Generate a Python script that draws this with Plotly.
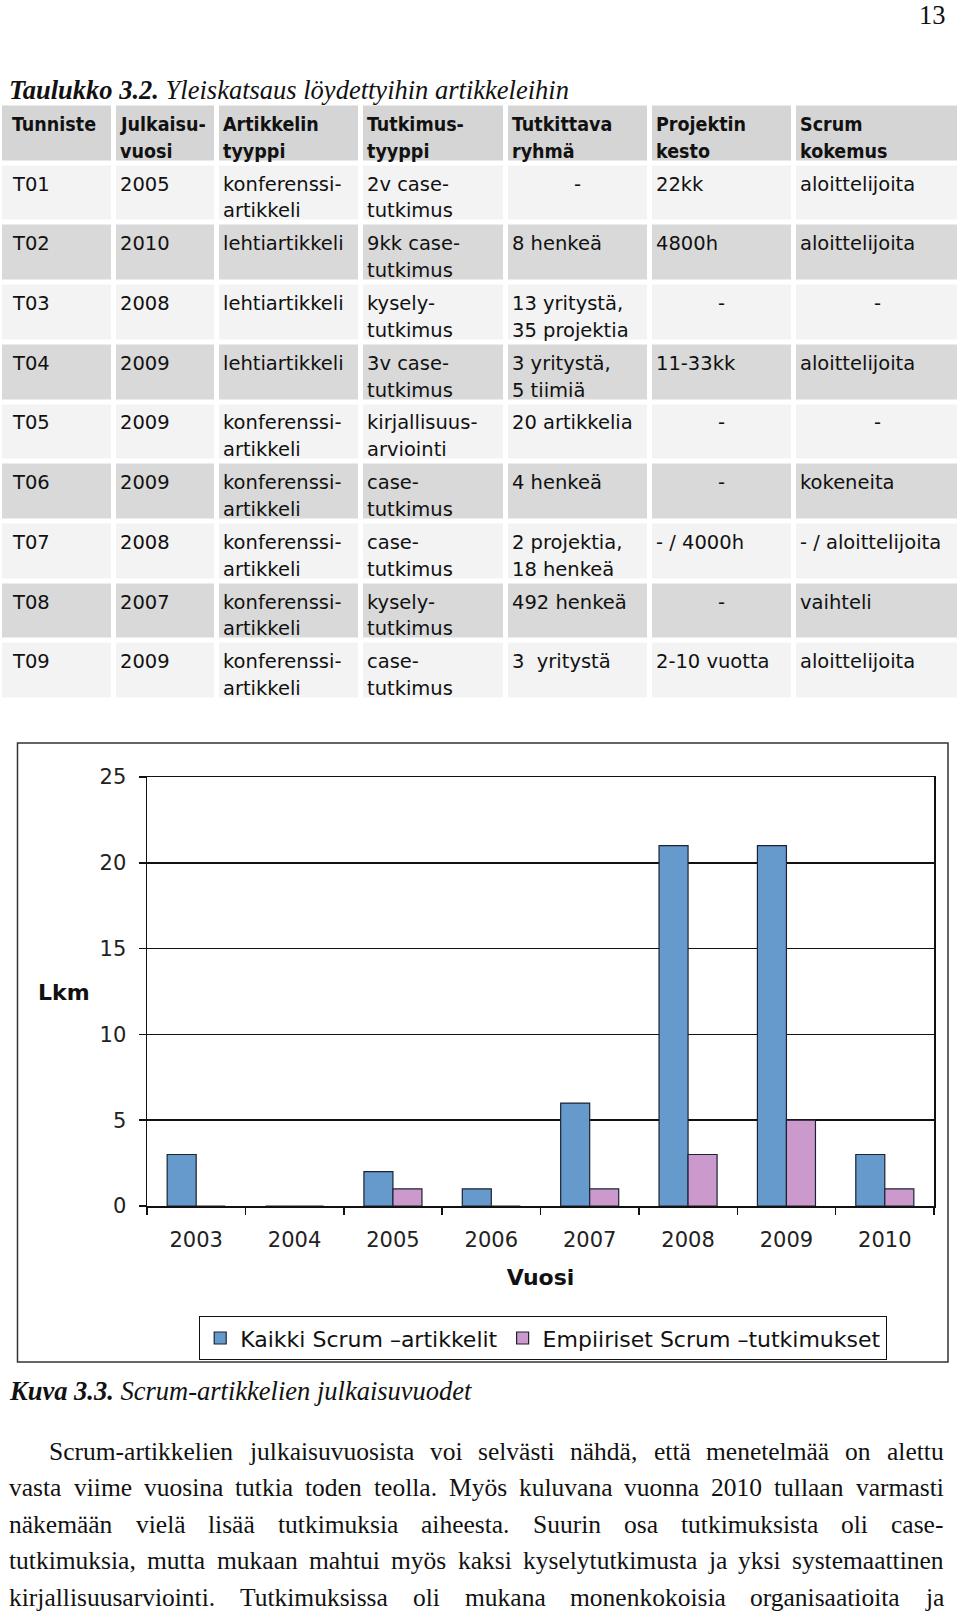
import plotly.graph_objects as go

W, H = 960, 1611

# ---- data -------------------------------------------------------------
years = ["2003", "2004", "2005", "2006", "2007", "2008", "2009", "2010"]
all_articles = [3, 0, 2, 1, 6, 21, 21, 3]
empirical = [0, 0, 1, 0, 1, 3, 5, 1]

header = ["Tunniste", "Julkaisu-\nvuosi", "Artikkelin\ntyyppi", "Tutkimus-\ntyyppi",
          "Tutkittava\nryhmä", "Projektin\nkesto", "Scrum\nkokemus"]
tunniste = ["T01", "T02", "T03", "T04", "T05", "T06", "T07", "T08", "T09"]
julkaisuvuosi = ["2005", "2010", "2008", "2009", "2009", "2009", "2008", "2007", "2009"]
artikkelin_tyyppi = ["konferenssi-\nartikkeli", "lehtiartikkeli", "lehtiartikkeli", "lehtiartikkeli",
                     "konferenssi-\nartikkeli", "konferenssi-\nartikkeli", "konferenssi-\nartikkeli",
                     "konferenssi-\nartikkeli", "konferenssi-\nartikkeli"]
tutkimustyyppi = ["2v case-\ntutkimus", "9kk case-\ntutkimus", "kysely-\ntutkimus", "3v case-\ntutkimus",
                  "kirjallisuus-\narviointi", "case-\ntutkimus", "case-\ntutkimus", "kysely-\ntutkimus",
                  "case-\ntutkimus"]
tutkittava_ryhma = ["-", "8 henkeä", "13 yritystä,\n35 projektia", "3 yritystä,\n5 tiimiä", "20 artikkelia",
                    "4 henkeä", "2 projektia,\n18 henkeä", "492 henkeä", "3\u00a0 yritystä"]
projektin_kesto = ["22kk", "4800h", "-", "11-33kk", "-", "-", "- / 4000h", "-", "2-10 vuotta"]
scrum_kokemus = ["aloittelijoita", "aloittelijoita", "-", "aloittelijoita", "-", "kokeneita",
                 "- / aloittelijoita", "vaihteli", "aloittelijoita"]

paragraph = [
    "Scrum-artikkelien julkaisuvuosista voi selvästi nähdä, että menetelmää on alettu",
    "vasta viime vuosina tutkia toden teolla. Myös kuluvana vuonna 2010 tullaan varmasti",
    "näkemään vielä lisää tutkimuksia aiheesta. Suurin osa tutkimuksista oli case-",
    "tutkimuksia, mutta mukaan mahtui myös kaksi kyselytutkimusta ja yksi systemaattinen",
    "kirjallisuusarviointi. Tutkimuksissa oli mukana monenkokoisia organisaatioita ja",
]

# ---- layout helpers ----------------------------------------------------
SANS = "DejaVu Sans"
SANS_C = "DejaVu Sans Condensed, DejaVu Sans"
SERIF = "Liberation Serif, Times New Roman, serif"


def px(x):
    return x / W


def py(y):
    return 1 - y / H


fig = go.Figure()
ann = []

# ---- table (heatmap bricks on a hidden axis pair) ----------------------
col_widths = [114, 103, 143.5, 145, 144, 144.5, 166]
edges = [-2.5]
for w in col_widths:
    edges.append(edges[-1] + w)
text_pad = [11.5, 6, 6, 6, 6, 6, 6]

columns = [tunniste, julkaisuvuosi, artikkelin_tyyppi, tutkimustyyppi,
           tutkittava_ryhma, projektin_kesto, scrum_kokemus]
rows = [header] + [[col[i] for col in columns] for i in range(len(tunniste))]
z = [[2] * 7] + [[i % 2] * 7 for i in range(len(tunniste))]

fig.add_trace(go.Heatmap(
    x=edges, y=list(range(len(rows) + 1)), z=z,
    xaxis="x2", yaxis="y2", zmin=0, zmax=2, showscale=False, hoverinfo="skip",
    colorscale=[[0, "#f3f3f3"], [0.34, "#f3f3f3"], [0.34, "#d9d9d9"], [0.67, "#d9d9d9"],
                [0.67, "#d5d5d5"], [1, "#d5d5d5"]],
    xgap=5, ygap=5,
))

line_off = [0.35, 0.80]
for r, row in enumerate(rows):
    for c, cell in enumerate(row):
        for k, line in enumerate(cell.split("\n")):
            centered = cell == "-"
            ann.append(dict(
                xref="x2", yref="y2",
                x=(edges[c] + edges[c + 1]) / 2 if centered else edges[c] + text_pad[c],
                y=r + line_off[k], text=line, showarrow=False,
                xanchor="center" if centered else "left", yanchor="middle",
                borderpad=0, borderwidth=0,
                font=dict(family=SANS_C if r == 0 else SANS, size=19.5, color="#111",
                          weight="bold" if r == 0 else "normal"),
            ))

# ---- bar chart ---------------------------------------------------------
bar_line = dict(color="#1c2333", width=1.2)
fig.add_trace(go.Bar(x=years, y=all_articles, name="Kaikki Scrum –artikkelit",
                     marker=dict(color="#6699cc", line=bar_line)))
fig.add_trace(go.Bar(x=years, y=empirical, name="Empiiriset Scrum –tutkimukset",
                     marker=dict(color="#cc99cc", line=bar_line)))

axis_font = dict(family=SANS, size=21, color="#222")
fig.update_layout(
    width=W, height=H, margin=dict(l=0, r=0, t=0, b=0, autoexpand=False),
    paper_bgcolor="white", plot_bgcolor="white",
    barmode="group", bargap=0.41, bargroupgap=0,
    xaxis=dict(domain=[px(147), px(934)], type="category", anchor="y", automargin=False,
               showline=True, mirror=True, linecolor="#111", linewidth=1.5,
               ticks="outside", tickson="boundaries", ticklen=7, tickwidth=1.5, tickcolor="#111",
               tickfont=axis_font, ticklabelstandoff=14, showgrid=False,
               title=dict(text="Vuosi", font=dict(family=SANS, size=22, color="#111", weight="bold"),
                          standoff=19)),
    yaxis=dict(domain=[py(1206), py(777)], range=[0, 25], dtick=5, anchor="x", automargin=False,
               showline=True, mirror=True, linecolor="#111", linewidth=1.5,
               showgrid=True, gridcolor="#111", gridwidth=1.5, zeroline=False,
               ticks="outside", ticklen=7, tickwidth=1.5, tickcolor="#111",
               tickfont=axis_font, ticklabelstandoff=8),
    xaxis2=dict(domain=[0, 1], range=[-2.5, 957.5], visible=False, anchor="y2", fixedrange=True),
    yaxis2=dict(domain=[py(700.5), py(103.5)], range=[len(rows), 0], visible=False,
                anchor="x2", fixedrange=True),
    legend=dict(orientation="h", x=px(199), y=py(1316), xanchor="left", yanchor="top",
                bordercolor="#111", borderwidth=1.2, bgcolor="white",
                font=dict(family=SANS, size=22, color="#111")),
    showlegend=True,
)

# chart frame
fig.add_shape(type="rect", xref="paper", yref="paper", x0=px(17.5), x1=px(948),
              y0=py(1362), y1=py(743), line=dict(color="#333", width=1.5), layer="below")

ann.append(dict(xref="paper", yref="paper", x=px(64), y=py(992), text="Lkm", showarrow=False,
                xanchor="center", yanchor="middle",
                font=dict(family=SANS, size=22, color="#111", weight="bold")))

# ---- page text ----------------------------------------------------------
serif = dict(family=SERIF, size=26.5, color="#111")
ann.append(dict(xref="paper", yref="paper", x=px(946), y=1, text="13", showarrow=False,
                xanchor="right", yanchor="top", font=serif, borderpad=0, borderwidth=0))
ann.append(dict(xref="paper", yref="paper", x=px(9), y=py(90), showarrow=False,
                text="<b><i>Taulukko 3.2.</i></b><i> Yleiskatsaus löydettyihin artikkeleihin</i>",
                xanchor="left", yanchor="middle", font=serif, borderpad=0, borderwidth=0))
ann.append(dict(xref="paper", yref="paper", x=px(9), y=py(1391), showarrow=False,
                text="<b><i>Kuva 3.3.</i></b><i> Scrum-artikkelien julkaisuvuodet</i>",
                xanchor="left", yanchor="middle", font=serif, borderpad=0, borderwidth=0))

# justified paragraph: Times metrics (per 1000 em)
TW = {"a": 444, "b": 500, "c": 444, "d": 500, "e": 444, "f": 333, "g": 500, "h": 500, "i": 278,
      "j": 278, "k": 500, "l": 278, "m": 778, "n": 500, "o": 500, "p": 500, "q": 500, "r": 333,
      "s": 389, "t": 278, "u": 500, "v": 500, "w": 722, "x": 500, "y": 500, "z": 444,
      "ä": 444, "ö": 500, "S": 556, "M": 889, "T": 611, ",": 250, ".": 250, "-": 333}


def word_w(s, size):
    return sum(TW.get(ch, 500) for ch in s) / 1000 * size


para_size = 25.5
left, right = 9.2, 943.5
for i, line in enumerate(paragraph):
    words = line.split(" ")
    x0 = 49.3 if i == 0 else left
    widths = [word_w(w_, para_size) for w_ in words]
    gap = (right - x0 - sum(widths)) / (len(words) - 1)
    yy = 1451 + i * 36.6
    x = x0
    for w_, ww in zip(words, widths):
        ann.append(dict(xref="paper", yref="paper", x=px(x), y=py(yy), text=w_, showarrow=False,
                        xanchor="left", yanchor="middle", borderpad=0, borderwidth=0,
                        font=dict(family=SERIF, size=para_size, color="#111")))
        x += ww + gap

fig.update_layout(annotations=ann)
# the page body keeps its default 8px margin otherwise
fig.write_html("out.html", config={"displayModeBar": False, "staticPlot": True},
               post_script="document.body.style.margin='0';")
